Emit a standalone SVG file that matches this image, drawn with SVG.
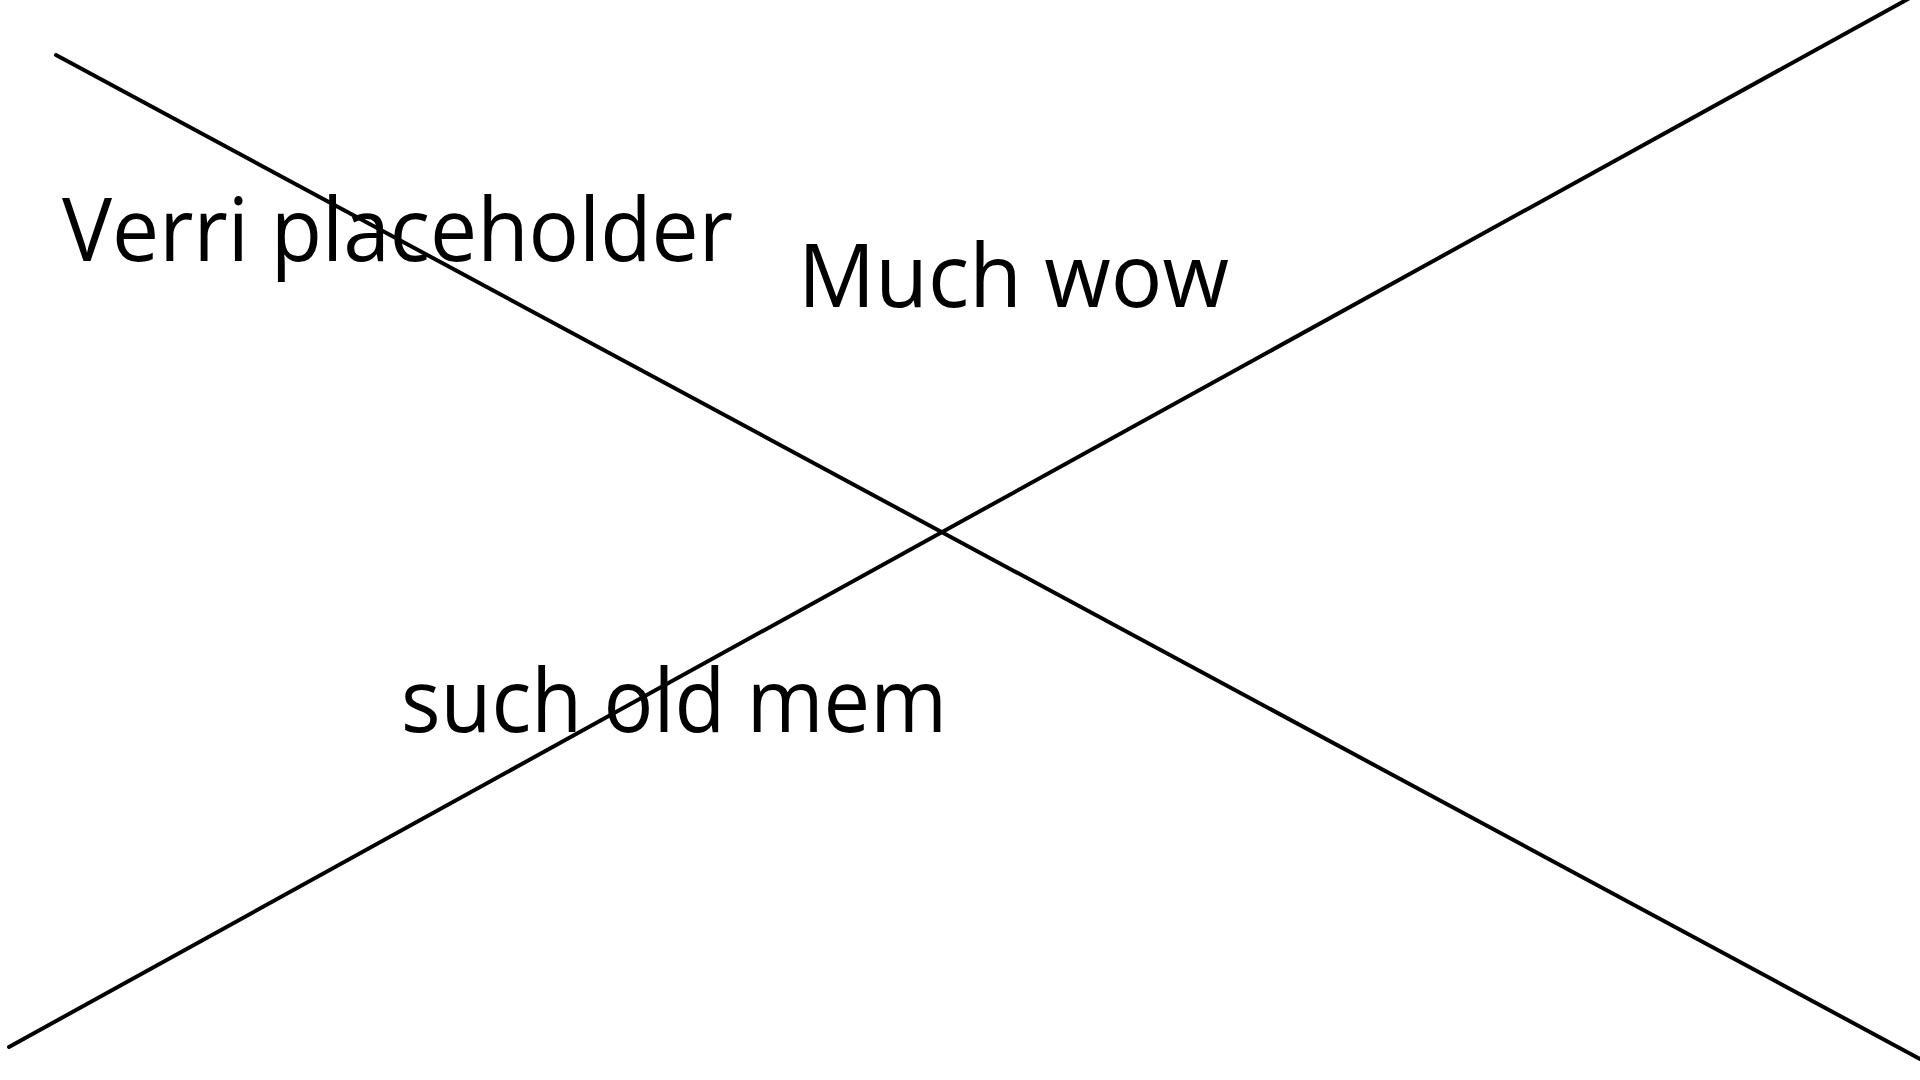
<svg xmlns="http://www.w3.org/2000/svg" width="1920" height="1080" viewBox="0 0 1920 1080">
<style>
.ln{stroke:#000;stroke-width:4;stroke-linecap:round;fill:none}
.t{font-family:"Open Sans","Noto Sans","Liberation Sans",sans-serif;font-size:87px;fill:#000}
</style>
<rect width="1920" height="1080" fill="#fff"/>
<g id="connectors">
<line class="ln" x1="56" y1="55" x2="1920" y2="1059"/>
<line class="ln" x1="9" y1="1047" x2="1908" y2="-1"/>
</g>
<g id="label1"><text class="t" x="62" y="261" textLength="671" lengthAdjust="spacingAndGlyphs">Verri placeholder</text></g>
<g id="label2"><text class="t" x="798" y="307" textLength="431" lengthAdjust="spacingAndGlyphs">Much wow</text></g>
<g id="label3"><text class="t" x="401" y="732" textLength="546" lengthAdjust="spacingAndGlyphs">such old mem</text></g>
</svg>
